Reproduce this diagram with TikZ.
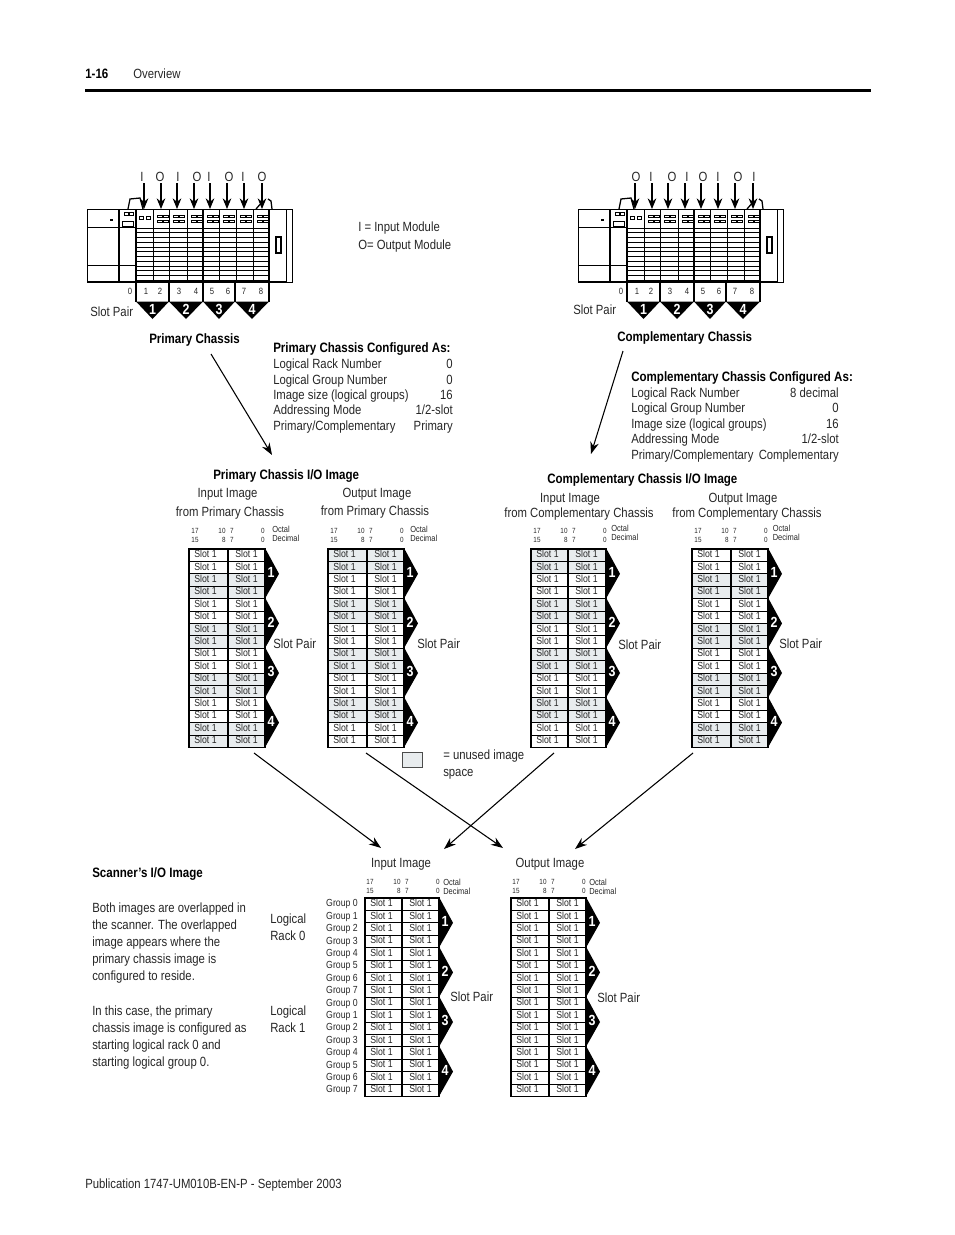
\documentclass[tikz,border=0pt]{standalone}
\usepackage{fontspec}
\setmainfont{Liberation Sans}[FakeStretch=0.85]
\usetikzlibrary{arrows.meta,calc}
\definecolor{unused}{HTML}{E8ECEE}
\definecolor{ink}{HTML}{262626}
\tikzset{
  txt/.style={font=\fontsize{10}{12}\selectfont,text=ink,inner sep=0pt,anchor=west,text height=6.5pt,text depth=0pt},
  hdr/.style={font=\fontsize{10.2}{12}\selectfont\bfseries,text=black,inner sep=0pt,anchor=west,text height=6.5pt,text depth=0pt},
  ctr/.style={txt,anchor=center},
  slottxt/.style={font=\fontsize{7.7}{9}\selectfont,text=ink,inner sep=0pt,text height=5pt,text depth=0pt},
  bittxt/.style={font=\fontsize{5.6}{7}\selectfont,text=ink,inner sep=0pt,text height=4pt,text depth=0pt},
  octtxt/.style={font=\fontsize{6.6}{8}\selectfont,text=ink,inner sep=0pt,anchor=west,text height=5pt,text depth=0pt},
  pairnum/.style={font=\fontsize{11}{12}\selectfont\bfseries,text=white,inner sep=0pt},
  bigarrow/.style={-{Stealth[length=9pt,width=6.5pt]},line width=.8pt,black},
  iarrow/.style={-{Stealth[length=8pt,width=6.5pt]},line width=.8pt,black},
  thin/.style={line width=.7pt,black},
  fine/.style={line width=.5pt,black},
  heavy/.style={line width=.95pt,black}
}
% one chassis with slot numbers and pair brackets
\newcommand{\chassis}[2]{
  \draw[thin,fill=white] (87,209) rectangle (292,282);
  \draw[thin] (87,227) -- (136,227) (87,265) -- (136,265);
  \draw[heavy] (119,209) -- (119,282);
  \draw[heavy] (136,209) -- (136,282) (269,209) -- (269,282);
  \draw[thin] (286,209) -- (286,282);
  \draw[heavy] (87,282) -- (286,282);
  \draw[fine] (124,212) rectangle ++(4,3) (129,212) rectangle ++(4,3) (122,221) rectangle ++(11,5);
  \fill[black] (110,219) rectangle (113,221);
  \draw[heavy] (276,237) rectangle (281,253);
  % handles
  \draw[heavy] (128,209) -- (130,199) -- (140,198) -- (143,209);
  \draw[heavy] (256,209) -- (263,201) (268,199) -- (271,201) -- (272,209);
  % card rows
  \foreach \r in {0,...,11} \draw[thin] (136,228+\r*4.75) -- (269,228+\r*4.75);
  \foreach \sx in {153,169,187,203,219,236,253} \draw[thin] (\sx,209) -- (\sx,282);
  \draw[heavy] (203,209) -- (203,282);
  \draw[fine] (139,216) rectangle ++(4,3) (146,216) rectangle ++(4,3);
  \foreach \sx in {153,169,187,203,219,236,253} {
    \draw[fine] (\sx+4,215) rectangle ++(5,2.5) (\sx+10,215) rectangle ++(5,2.5);
    \draw[fine] (\sx+4,220) rectangle ++(5,2.5) (\sx+10,220) rectangle ++(5,2.5);
  }
  % I/O arrows
  \foreach \ax [count=\n] in {144,161,177,194,210,227,244,262} {
    \coordinate (#1from\n) at (\ax,183);
    \coordinate (#1to\n) at (\ax,209);
    \draw[iarrow] (#1from\n) -- (#1to\n);
  }
  \foreach \lab/\lx [count=\n] in {#2}
    \node[ctr] (#1io\n) at (\lx,177) {\lab};
  % slot numbers
  \node[bittxt,font=\fontsize{6.8}{8}\selectfont] (#1no0) at (130,292) {0};
  \foreach \nx [count=\n] in {146,160,179,196,212,228,244,261}
    \node[bittxt,font=\fontsize{6.8}{8}\selectfont] (#1no\n) at (\nx,292) {\n};
  % pair brackets
  \foreach \gl/\gr [count=\n] in {136/169,169/203,203/235,235/269} {
    \draw[heavy] (\gl,282) -- (\gl,302) (\gr,282) -- (\gr,302);
    \fill[black] (\gl,301.5) -- (\gr,301.5) -- ($(\gl,301.5)!.5!(\gr,301.5)+(0,17.5)$) -- cycle;
    \node[pairnum] (#1pair\n) at ($(\gl,309.5)!.5!(\gr,309.5)$) {\n};
  }
}
% grey rows of an image, drawn first
\newcommand{\grayrows}[4]{
  \foreach \r in {#4}
    \fill[unused] (#1,#3+\r*12.4) rectangle (#2,#3+\r*12.4+12.4);
}
% two columns by sixteen rows with pair chevrons: name, left, mid, right, top
\newcommand{\slotimage}[5]{
  \foreach \r in {1,...,15} \draw[thin] (#2,#5+\r*12.4) -- (#4,#5+\r*12.4);
  \draw[heavy] (#2,#5) rectangle (#4,#5+198.4);
  \draw[heavy] (#3,#5) -- (#3,#5+198.4);
  \foreach \r in {0,...,15} {
    \node[slottxt] (#1a\r) at (#2+16.5,#5+\r*12.4+5.4) {Slot 1};
    \node[slottxt] (#1b\r) at (#3+18.5,#5+\r*12.4+5.4) {Slot 1};
  }
  \foreach \n in {1,2,3,4} {
    \fill[black] (#4,#5+\n*49.6-49.6-1) -- (#4+14,#5+\n*49.6-24.8) -- (#4,#5+\n*49.6) -- cycle;
    \node[pairnum] (#1pair\n) at (#4+6,#5+\n*49.6-26) {\n};
  }
}
% bit numbers above an image: name, left, y, octal x, octal y
\newcommand{\bithead}[5]{
  \node[bittxt] (#1hi17) at (#2+6,#3) {17};
  \node[bittxt] (#1hi10) at (#2+33,#3) {10};
  \node[bittxt] (#1hi7) at (#2+43,#3) {7};
  \node[bittxt] (#1hi0) at (#2+74,#3) {0};
  \node[bittxt] (#1lo15) at (#2+6,#3+9) {15};
  \node[bittxt] (#1lo8) at (#2+35,#3+9) {8};
  \node[bittxt] (#1lo7) at (#2+43,#3+9) {7};
  \node[bittxt] (#1lo0) at (#2+74,#3+9) {0};
  \node[octtxt] (#1oct) at (#4,#5) {Octal};
  \node[octtxt] (#1dec) at (#4,#5+9.5) {Decimal};
}
% one row of a configuration list
\newcommand{\cfgrow}[6]{
  \node[txt] (#1l) at (#3,#2) {#5};
  \node[txt,anchor=east] (#1r) at (#4,#2) {#6};
}
\begin{document}
\begin{tikzpicture}[x=0.75pt,y=-0.75pt]
  \useasboundingbox (0,0) rectangle (954,1235);

  % page head
  \node[hdr] (pageno) at (85,74) {1-16};
  \node[txt] (pagehead) at (133,74) {Overview};
  \fill[black] (85,88.5) rectangle (871,91.5);

  % chassis
  \begin{scope}
    \chassis{p}{I/142,O/160,I/178,O/197,I/209,O/229,I/243,O/262}
  \end{scope}
  \begin{scope}[shift={(491,0)}]
    \chassis{c}{O/145,I/160,O/181,I/196,O/212,I/227,O/247,I/263}
  \end{scope}
  \node[txt] (pslot) at (90,312) {Slot Pair};
  \node[txt] (cslot) at (573,310) {Slot Pair};
  \node[txt] (keyi) at (358,227) {I = Input Module};
  \node[txt] (keyo) at (358,245) {O= Output Module};
  \node[hdr] (pname) at (149,339) {Primary Chassis};
  \node[hdr] (cname) at (617,337) {Complementary Chassis};

  % configuration lists
  \node[hdr] (pcfg) at (273,348) {Primary Chassis Configured As:};
  \cfgrow{pa}{364}{273}{453}{Logical Rack Number}{0}
  \cfgrow{pb}{380}{273}{453}{Logical Group Number}{0}
  \cfgrow{pc}{395}{273}{453}{Image size (logical groups)}{16}
  \cfgrow{pd}{410}{273}{453}{Addressing Mode}{1/2-slot}
  \cfgrow{pe}{426}{273}{453}{Primary/Complementary}{Primary}
  \node[hdr] (ccfg) at (631,377) {Complementary Chassis Configured As:};
  \cfgrow{ca}{393}{631}{839}{Logical Rack Number}{8 decimal}
  \cfgrow{cb}{408}{631}{839}{Logical Group Number}{0}
  \cfgrow{cc}{424}{631}{839}{Image size (logical groups)}{16}
  \cfgrow{cd}{439}{631}{839}{Addressing Mode}{1/2-slot}
  \cfgrow{ce}{455}{631}{839}{Primary/Complementary}{Complementary}

  % image titles
  \node[hdr] (ptitle) at (213,475) {Primary Chassis I/O Image};
  \node[ctr] (pin) at (227.5,493) {Input Image};
  \node[ctr] (pinf) at (230,512) {from Primary Chassis};
  \node[ctr] (pout) at (377,493) {Output Image};
  \node[ctr] (poutf) at (375,511) {from Primary Chassis};
  \node[hdr] (ctitle) at (547,479) {Complementary Chassis I/O Image};
  \node[ctr] (cin) at (570,498) {Input Image};
  \node[ctr] (cinf) at (579,513) {from Complementary Chassis};
  \node[ctr] (cout) at (743,498) {Output Image};
  \node[ctr] (coutf) at (747,513) {from Complementary Chassis};

  % chassis images
  \bithead{pi}{189}{531}{272}{529}
  \bithead{po}{328}{531}{410}{529}
  \bithead{ci}{531}{531}{611}{528}
  \bithead{co}{692}{531}{772.5}{528}
  \grayrows{189}{265}{549}{2,3,6,7,10,11,14,15}
  \grayrows{328}{404}{549}{0,1,4,5,8,9,12,13}
  \grayrows{531}{606}{549}{0,1,4,5,8,9,12,13}
  \grayrows{692}{768}{549}{2,3,6,7,10,11,14,15}
  \slotimage{pi}{189}{228}{265}{549}
  \slotimage{po}{328}{367}{404}{549}
  \slotimage{ci}{531}{568}{606}{549}
  \slotimage{co}{692}{731}{768}{549}
  \node[txt] (pislot) at (273,644) {Slot Pair};
  \node[txt] (poslot) at (417,644) {Slot Pair};
  \node[txt] (cislot) at (618,645) {Slot Pair};
  \node[txt] (coslot) at (779,644) {Slot Pair};

  % unused key
  \draw[line width=.6pt,black!70,fill=unused] (402,752) rectangle (422,767);
  \node[txt] (unuseda) at (443,755) {= unused image};
  \node[txt] (unusedb) at (443,772) {space};

  % scanner image
  \node[ctr] (sin) at (401,863) {Input Image};
  \node[ctr] (sout) at (550,863) {Output Image};
  \bithead{si}{364}{882}{443}{882}
  \bithead{so}{510}{882}{589}{882}
  \slotimage{si}{365}{402}{439}{898}
  \slotimage{so}{511}{549}{586}{898}
  \draw[heavy] (365,1009.6) -- (439,1009.6) (511,1009.6) -- (586,1009.6);
  \foreach \g in {0,...,7} {
    \node[slottxt] (groupa\g) at (342,903.5+\g*12.4) {Group \g};
    \node[slottxt] (groupb\g) at (342,1002.7+\g*12.4) {Group \g};
  }
  \node[txt] (rack0a) at (270,919) {Logical};
  \node[txt] (rack0b) at (270,936) {Rack 0};
  \node[txt] (rack1a) at (270,1011) {Logical};
  \node[txt] (rack1b) at (270,1028) {Rack 1};
  \node[txt] (sislot) at (450,997) {Slot Pair};
  \node[txt] (soslot) at (597,998) {Slot Pair};

  % side text
  \node[hdr] (stitle) at (92,873) {Scanner’s I/O Image};
  \node[txt] (sa) at (92,908) {Both images are overlapped in};
  \node[txt] (sb) at (92,925) {the scanner. The overlapped};
  \node[txt] (sc) at (92,942) {image appears where the};
  \node[txt] (sd) at (92,959) {primary chassis image is};
  \node[txt] (se) at (92,976) {configured to reside.};
  \node[txt] (sf) at (92,1011) {In this case, the primary};
  \node[txt] (sg) at (92,1028) {chassis image is configured as};
  \node[txt] (sh) at (92,1045) {starting logical rack 0 and};
  \node[txt] (si) at (92,1062) {starting logical group 0.};
  \node[txt] (pub) at (85,1184) {Publication 1747-UM010B-EN-P - September 2003};

  % big arrows
  \coordinate (pnear) at (211,354);
  \coordinate (pfar) at (272,455);
  \coordinate (cnear) at (623,351);
  \coordinate (cfar) at (591,454);
  \coordinate (piend) at (254,753);
  \coordinate (poend) at (366,753);
  \coordinate (ciend) at (554,753);
  \coordinate (coend) at (693,753);
  \coordinate (sia) at (381,848);
  \coordinate (soa) at (503,848);
  \coordinate (sib) at (444,849);
  \coordinate (sob) at (575,849);
  \draw[bigarrow] (pnear) -- (pfar);
  \draw[bigarrow] (cnear) -- (cfar);
  \draw[bigarrow] (piend) -- (sia);
  \draw[bigarrow] (poend) -- (soa);
  \draw[bigarrow] (ciend) -- (sib);
  \draw[bigarrow] (coend) -- (sob);
\end{tikzpicture}
\end{document}
